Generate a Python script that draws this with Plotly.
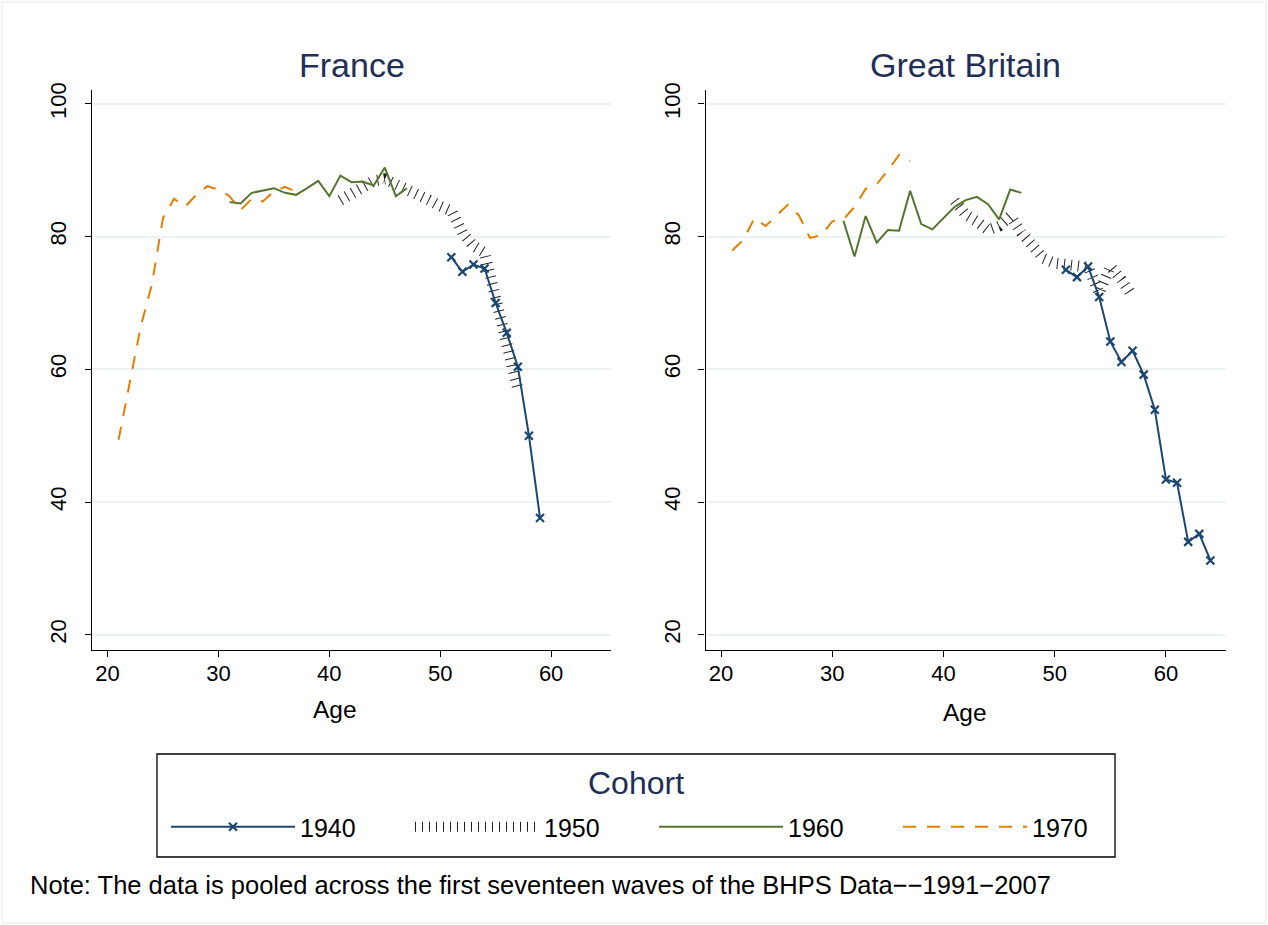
import plotly.graph_objects as go

# ---------------- data ----------------
cohorts = ["1940", "1950", "1960", "1970"]

fr_age_1940 = list(range(51, 60))
fr_val_1940 = [76.9, 74.7, 75.8, 75.2, 70.0, 65.5, 60.4, 50.0, 37.6]

fr_age_1950 = list(range(41, 58))
fr_val_1950 = [85.5, 86.5, 87.6, 88.4, 88.7, 88.0, 87.0, 86.5, 85.5, 84.6,
               83.9, 80.6, 78.6, 77.6, 71.0, 63.5, 57.0]

fr_age_1960 = list(range(31, 48))
fr_val_1960 = [85.2, 85.0, 86.6, 86.9, 87.3, 86.6, 86.3, 87.3, 88.4, 86.1,
               89.2, 88.2, 88.3, 87.7, 90.4, 86.1, 87.3]

fr_age_1970 = list(range(21, 38))
fr_val_1970 = [49.4, 58.0, 66.5, 72.8, 82.8, 85.7, 84.5, 86.3, 87.6, 87.1,
               86.1, 84.0, 85.7, 85.3, 86.8, 87.5, 86.8]

gb_age_1940 = list(range(51, 65))
gb_val_1940 = [75.0, 73.9, 75.5, 70.9, 64.2, 61.1, 62.8, 59.2, 53.9, 43.4,
               42.9, 34.0, 35.2, 31.2]

gb_age_1950 = list(range(41, 58))
gb_val_1950 = [85.4, 83.3, 82.3, 81.0, 81.6, 83.1, 80.6, 78.8, 76.7, 76.0,
               75.8, 75.8, 75.4, 71.5, 75.5, 73.5, 71.0]

gb_age_1960 = list(range(31, 48))
gb_val_1960 = [82.4, 77.0, 83.1, 79.1, 81.0, 80.9, 86.9, 81.9, 81.1, 82.8,
               84.5, 85.5, 86.0, 84.9, 82.6, 87.1, 86.6]

gb_age_1970 = list(range(21, 38))
gb_val_1970 = [77.9, 79.5, 82.8, 81.6, 83.2, 84.8, 83.2, 79.8, 80.2, 82.3,
               82.6, 84.5, 87.2, 87.9, 90.0, 92.3, 91.4]

x_ticks = [20, 30, 40, 50, 60]
y_ticks = [20, 40, 60, 80, 100]
panel_titles = ["France", "Great Britain"]
x_title = "Age"
legend_title = "Cohort"
note = "Note: The data is pooled across the first seventeen waves of the BHPS Data\u2212\u22121991\u22122007"

# ---------------- styling ----------------
W, H = 1268, 925
FONT = "Liberation Sans"
NAVY = "#1a476f"
GREEN = "#55752f"
ORANGE = "#e37e00"
HATCH = "#222222"
TITLE_C = "#1f2f57"
GRID_C = "#eaf2f3"

styles = {
    "1940": dict(mode="lines+markers",
                 line=dict(color=NAVY, width=2),
                 marker=dict(symbol="x-thin", size=8, color=NAVY,
                             line=dict(color=NAVY, width=2.2))),
    "1950": dict(mode="lines",
                 line=dict(color=HATCH, width=11, dash="1px,6px")),
    "1960": dict(mode="lines", line=dict(color=GREEN, width=2)),
    "1970": dict(mode="lines", line=dict(color=ORANGE, width=2, dash="13px,11px")),
}

series = {
    ("x", "y"): [(fr_age_1940, fr_val_1940), (fr_age_1950, fr_val_1950),
                 (fr_age_1960, fr_val_1960), (fr_age_1970, fr_val_1970)],
    ("x2", "y2"): [(gb_age_1940, gb_val_1940), (gb_age_1950, gb_val_1950),
                   (gb_age_1960, gb_val_1960), (gb_age_1970, gb_val_1970)],
}

fig = go.Figure()
order = [1, 3, 2, 0]
for (xa, ya), data in series.items():
    for i in order:
        c = cohorts[i]
        xs, ys = data[i]
        fig.add_trace(go.Scatter(x=xs, y=ys, xaxis=xa, yaxis=ya, name=c,
                                 legendrank=i, showlegend=(xa == "x"),
                                 hoverinfo="skip", **styles[c]))

x_dom = [[92 / W, 611 / W], [705.5 / W, 1226 / W]]
y_dom = [1 - 650 / H, 1 - 90 / H]

axis_common = dict(showline=True, linecolor="black", linewidth=1.3,
                   ticks="outside", ticklen=6, tickwidth=1.3, tickcolor="black",
                   tickfont=dict(family=FONT, size=22, color="black"),
                   zeroline=False, automargin=False)

for k, dom in enumerate(x_dom):
    sfx = "" if k == 0 else str(k + 1)
    fig.layout["xaxis" + sfx] = dict(domain=dom, range=[18.6, 65.4],
                                     tickvals=x_ticks, showgrid=False,
                                     anchor="y" + sfx, ticklabelstandoff=-3,
                                     **axis_common)
    fig.layout["yaxis" + sfx] = dict(domain=y_dom, range=[17.7, 102.1],
                                     tickvals=y_ticks, showgrid=True,
                                     gridcolor=GRID_C, gridwidth=1.5,
                                     tickangle=-90, anchor="x" + sfx,
                                     ticklabelstandoff=10,
                                     **axis_common)

annotations = []
for title, cx in zip(panel_titles, [351.5, 965.5]):
    annotations.append(dict(text=title, x=cx / W, y=1 - 65 / H, xref="paper",
                            yref="paper", showarrow=False, xanchor="center",
                            yanchor="middle",
                            font=dict(family=FONT, size=34, color=TITLE_C)))
for cx, cy in [(335, 709), (965, 712)]:
    annotations.append(dict(text=x_title, x=cx / W, y=1 - cy / H, xref="paper",
                            yref="paper", showarrow=False, xanchor="center",
                            yanchor="middle",
                            font=dict(family=FONT, size=24.5, color="black")))
annotations.append(dict(text=legend_title, x=636 / W, y=1 - 783 / H,
                        xref="paper", yref="paper", showarrow=False,
                        xanchor="center", yanchor="middle",
                        font=dict(family=FONT, size=32, color=TITLE_C)))
annotations.append(dict(text=note, x=28 / W, y=1 - 885 / H, xref="paper",
                        yref="paper", showarrow=False, xanchor="left",
                        yanchor="middle",
                        font=dict(family=FONT, size=25.5, color="black")))

fig.update_layout(
    width=W, height=H,
    margin=dict(l=0, r=0, t=0, b=0, pad=0),
    paper_bgcolor="white", plot_bgcolor="white",
    font=dict(family=FONT, color="black"),
    annotations=annotations,
    showlegend=True,
    legend=dict(orientation="h", x=166 / W, xanchor="left",
                y=1 - 827 / H, yanchor="middle",
                borderwidth=0, bgcolor="rgba(0,0,0,0)",
                itemwidth=124, entrywidth=105, entrywidthmode="pixels",
                font=dict(family=FONT, size=25, color="black"),
                traceorder="normal"),
    shapes=[
        dict(type="rect", xref="paper", yref="paper",
             x0=2 / W, x1=1266 / W, y0=1 - 923 / H, y1=1 - 2 / H,
             line=dict(color="#e6e6e6", width=1), layer="below"),
        dict(type="rect", xref="paper", yref="paper",
             x0=157 / W, x1=1115 / W, y0=1 - 857 / H, y1=1 - 754 / H,
             line=dict(color="black", width=1.3), layer="below"),
    ],
)

fig.write_html("out.html",
               config={"displayModeBar": False},
               post_script="document.body.style.margin='0px';")
